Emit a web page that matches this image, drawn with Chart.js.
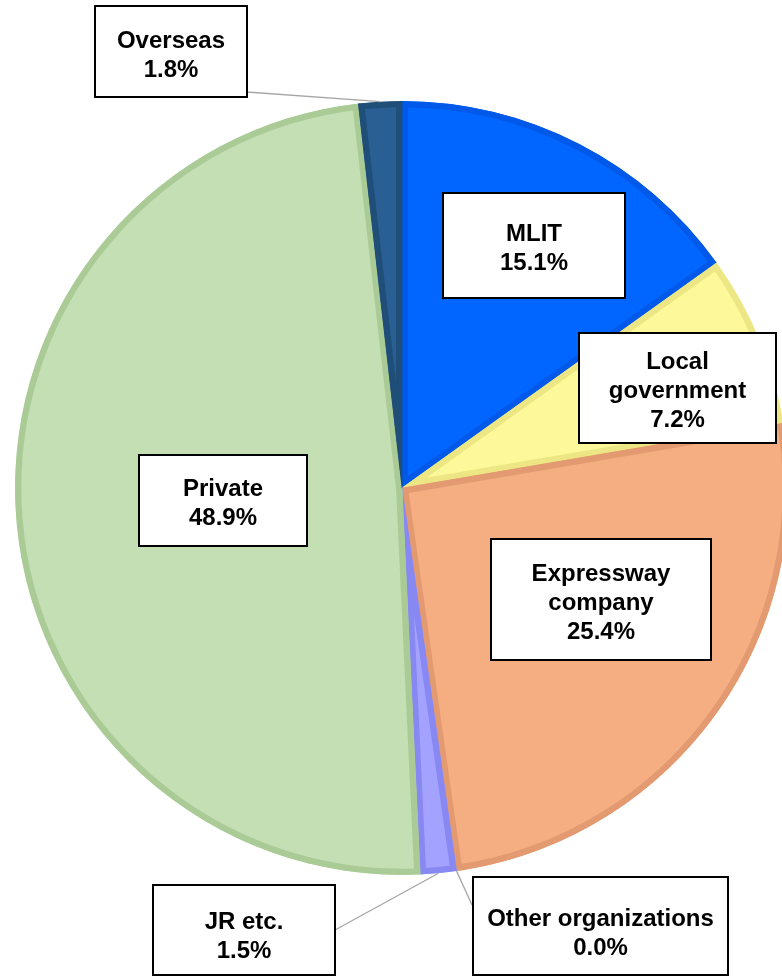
<!DOCTYPE html>
<html>
<head>
<meta charset="utf-8">
<script src="https://cdn.jsdelivr.net/npm/chart.js@4/dist/chart.umd.min.js"></script>
<style>
  html, body { margin: 0; padding: 0; background: #ffffff; overflow: hidden; }
  #wrap { position: absolute; left: 0; top: 0; width: 804px; height: 976px; }
</style>
</head>
<body>
<div id="wrap"><canvas id="c" width="804" height="976"></canvas></div>
<script>
// ---- data ----
const categories = ["MLIT", "Local government", "Expressway company", "Other organizations", "JR etc.", "Private", "Overseas"];
const values = [15.1, 7.2, 25.4, 0.0, 1.5, 48.9, 1.8];
const labelLines = [["MLIT"], ["Local", "government"], ["Expressway", "company"], ["Other organizations"], ["JR etc."], ["Private"], ["Overseas"]];

// ---- styles ----
const fillColors = ["#0066FF", "#FDF99A", "#F4AE82", "#F4AE82", "#A3A3FF", "#C4DFB4", "#2A5F94"];
const borderColors = ["#0059E8", "#ECE784", "#E39A70", "#E39A70", "#8888F2", "#AACB96", "#1F4E79"];

// label box layout: [x, y, w, h, textCenterY, leaderFromX, leaderFromY] (leader null = none)
const labelLayout = [
  [443, 193, 182, 105, 246.5, null, null],
  [579, 333, 197, 110, 389, null, null],
  [491, 539, 220, 121, 601, null, null],
  [473, 877, 255, 98, 931.5, 472, 905],
  [153, 885, 182, 90, 934.5, 335, 930],
  [139, 455, 168, 91, 502, null, null],
  [95, 6, 152, 91, 54, 247, 92]
];

const labelPlugin = {
  id: 'boxLabels',
  afterDatasetsDraw(chart) {
    const ctx = chart.ctx;
    const meta = chart.getDatasetMeta(0);
    // leader lines
    ctx.save();
    ctx.strokeStyle = '#A6A6A6';
    ctx.lineWidth = 1.3;
    meta.data.forEach((arc, i) => {
      const L = labelLayout[i];
      if (L[5] === null) return;
      const p = arc.getProps(['x', 'y', 'startAngle', 'endAngle', 'outerRadius'], true);
      const mid = (p.startAngle + p.endAngle) / 2;
      const ex = p.x + Math.cos(mid) * p.outerRadius;
      const ey = p.y + Math.sin(mid) * p.outerRadius;
      ctx.beginPath();
      ctx.moveTo(L[5], L[6]);
      ctx.lineTo(ex, ey);
      ctx.stroke();
    });
    ctx.restore();
    // boxes
    ctx.save();
    const fs = 24;
    const lh = 29;
    ctx.font = 'bold ' + fs + 'px "Liberation Sans", Arial, sans-serif';
    ctx.textAlign = 'center';
    ctx.textBaseline = 'alphabetic';
    meta.data.forEach((arc, i) => {
      const L = labelLayout[i];
      ctx.fillStyle = '#FFFFFF';
      ctx.fillRect(L[0], L[1], L[2], L[3]);
      ctx.strokeStyle = '#000000';
      ctx.lineWidth = 2;
      ctx.strokeRect(L[0], L[1], L[2], L[3]);
      const lines = labelLines[i].concat([values[i].toFixed(1) + '%']);
      const cx = L[0] + L[2] / 2;
      const n = lines.length;
      ctx.fillStyle = '#000000';
      lines.forEach((t, k) => {
        const cy = L[4] + (k - (n - 1) / 2) * lh;
        ctx.fillText(t, cx, cy + 0.358 * fs);
      });
    });
    ctx.restore();
  }
};

new Chart(document.getElementById('c'), {
  type: 'pie',
  data: {
    labels: categories,
    datasets: [{
      data: values,
      backgroundColor: fillColors,
      borderColor: borderColors,
      borderWidth: 6,
      borderAlign: 'inner'
    }]
  },
  options: {
    responsive: false,
    devicePixelRatio: 1,
    animation: false,
    radius: 387,
    layout: { padding: 0 },
    plugins: {
      legend: { display: false },
      tooltip: { enabled: false },
      title: { display: false }
    }
  },
  plugins: [labelPlugin]
});
</script>
</body>
</html>
